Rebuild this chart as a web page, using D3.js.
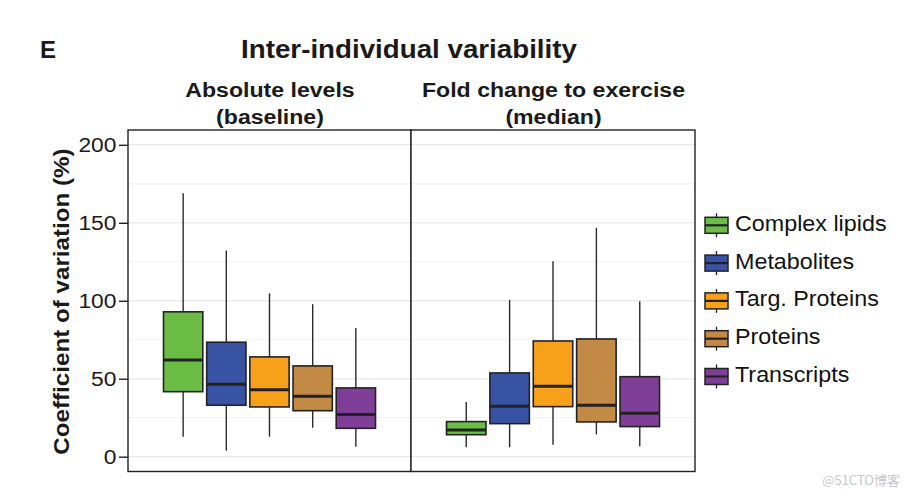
<!DOCTYPE html>
<html><head><meta charset="utf-8">
<script src="https://cdn.jsdelivr.net/npm/d3@7"></script>
<style>body{margin:0;background:#fff}svg{display:block;font-family:Arial,"Liberation Sans",sans-serif}</style>
</head><body>
<svg id="c" width="911" height="498"></svg>
<script>
const categories = ["Complex lipids","Metabolites","Targ. Proteins","Proteins","Transcripts"];
const colors = ["#6cbd45","#3953a4","#f7a11a","#c38a45","#7f3f98"];
const panels = ["Absolute levels|(baseline)","Fold change to exercise|(median)"];
// [low, q1, median, q3, high]
const baseline = [
  [12.8, 41.7, 62, 92.9, 169],
  [3.9, 33, 46.4, 73.4, 132.2],
  [12.8, 31.9, 43, 64, 104.8],
  [18.6, 29.5, 38.7, 58.2, 97.8],
  [6.4, 18.2, 27, 44.1, 82.6]
];
const foldChange = [
  [6, 14.1, 17.1, 22.5, 35.1],
  [6, 21.2, 32.3, 53.7, 100.6],
  [7.7, 32.1, 45.2, 74.2, 125.4],
  [14.3, 22.3, 33, 75.5, 146.8],
  [6.7, 19.3, 27.8, 51.3, 99.7]
];
const yTicks = [0,50,100,150,200];
const yMinor = [25,75,125,175];

const svg = d3.select("#c");
const yTop = 130, yBot = 471.5;
const y = d3.scaleLinear().domain([-9.5, 209.5]).range([yBot, yTop]);
const panelX = [[128,411],[411,695]];
const data = [baseline, foldChange];

function label(parent, x, yy, txt, size, sx, opts = {}) {
  const g = parent.append("g").attr("transform", `translate(${x},${yy})${opts.rot ? " rotate(" + opts.rot + ")" : ""} scale(${sx},1)`);
  return g.append("text").attr("x",0).attr("y",0)
    .attr("text-anchor", opts.anchor || "start")
    .attr("font-size", size)
    .attr("font-weight", opts.bold ? "bold" : "normal")
    .attr("fill", opts.fill || "#1a1a1a")
    .text(txt);
}

panelX.forEach(([x0,x1], pi) => {
  const g = svg.append("g");
  g.append("rect").attr("x",x0).attr("y",yTop).attr("width",x1-x0).attr("height",yBot-yTop).attr("fill","#fff");
  yMinor.forEach(v => g.append("line").attr("x1",x0).attr("x2",x1).attr("y1",y(v)).attr("y2",y(v)).attr("stroke","#f2f2f2").attr("stroke-width",1.2));
  yTicks.forEach(v => g.append("line").attr("x1",x0).attr("x2",x1).attr("y1",y(v)).attr("y2",y(v)).attr("stroke","#ebebeb").attr("stroke-width",1.4));
  const xb = d3.scaleBand().domain(categories).range([x0+35.5, x1-35.5]).paddingInner(0.09);
  data[pi].forEach((d, i) => {
    const cx = xb(categories[i]) + xb.bandwidth()/2;
    const bx = xb(categories[i]), bw = xb.bandwidth();
    g.append("line").attr("x1",cx).attr("x2",cx).attr("y1",y(d[0])).attr("y2",y(d[4])).attr("stroke","#2a2a2a").attr("stroke-width",1.4);
    g.append("rect").attr("x",bx).attr("y",y(d[3])).attr("width",bw).attr("height",y(d[1])-y(d[3]))
      .attr("fill",colors[i]).attr("stroke","#222").attr("stroke-width",1.6);
    g.append("line").attr("x1",bx).attr("x2",bx+bw).attr("y1",y(d[2])).attr("y2",y(d[2])).attr("stroke","#222").attr("stroke-width",3);
  });
  g.append("rect").attr("x",x0).attr("y",yTop).attr("width",x1-x0).attr("height",yBot-yTop).attr("fill","none").attr("stroke","#222").attr("stroke-width",1.4);
  const [l1,l2] = panels[pi].split("|");
  const cxp = (x0+x1)/2 + 0.5;
  label(svg, cxp, 96.5, l1, 21, 1.1, {anchor:"middle", bold:true});
  label(svg, cxp, 124, l2, 21, 1.1, {anchor:"middle", bold:true});
});

// y axis
const ax = svg.append("g").attr("transform","translate(128,0)").call(d3.axisLeft(y).tickValues(yTicks).tickSize(9).tickPadding(2));
ax.select(".domain").remove();
ax.selectAll(".tick line").attr("stroke","#222").attr("stroke-width",1.4);
ax.selectAll(".tick text").remove();
ax.selectAll(".tick").each(function(v) {
  label(d3.select(this), -11.5, 7, String(v), 19.5, 1.17, {anchor:"end"});
});

label(svg, 69, 301.5, "Coefficient of variation (%)", 22, 1.1, {anchor:"middle", bold:true, rot:-90});

label(svg, 409, 58.3, "Inter-individual variability", 26.5, 1.047, {anchor:"middle", bold:true});
label(svg, 40, 58, "E", 24, 1.0, {bold:true});

// legend
const leg = svg.append("g");
categories.forEach((c, i) => {
  const yy = 225.3 + i*37.8;
  const kx = 705, kw = 23, kh = 16;
  leg.append("line").attr("x1",kx+kw/2).attr("x2",kx+kw/2).attr("y1",yy-kh/2-4).attr("y2",yy+kh/2+4).attr("stroke","#222").attr("stroke-width",1.3);
  leg.append("rect").attr("x",kx).attr("y",yy-kh/2).attr("width",kw).attr("height",kh).attr("fill",colors[i]).attr("stroke","#222").attr("stroke-width",1.5);
  leg.append("line").attr("x1",kx).attr("x2",kx+kw).attr("y1",yy).attr("y2",yy).attr("stroke","#222").attr("stroke-width",2.2);
  label(leg, 735, yy+5.5, c, 22, 1.06, {fill:"#111"});
});

svg.append("text").attr("x",900).attr("y",485).attr("text-anchor","end").attr("font-size",13).attr("fill","#c8c8c8").attr("font-family","'Noto Sans CJK SC',sans-serif").text("@51CTO博客");
</script>
</body></html>
